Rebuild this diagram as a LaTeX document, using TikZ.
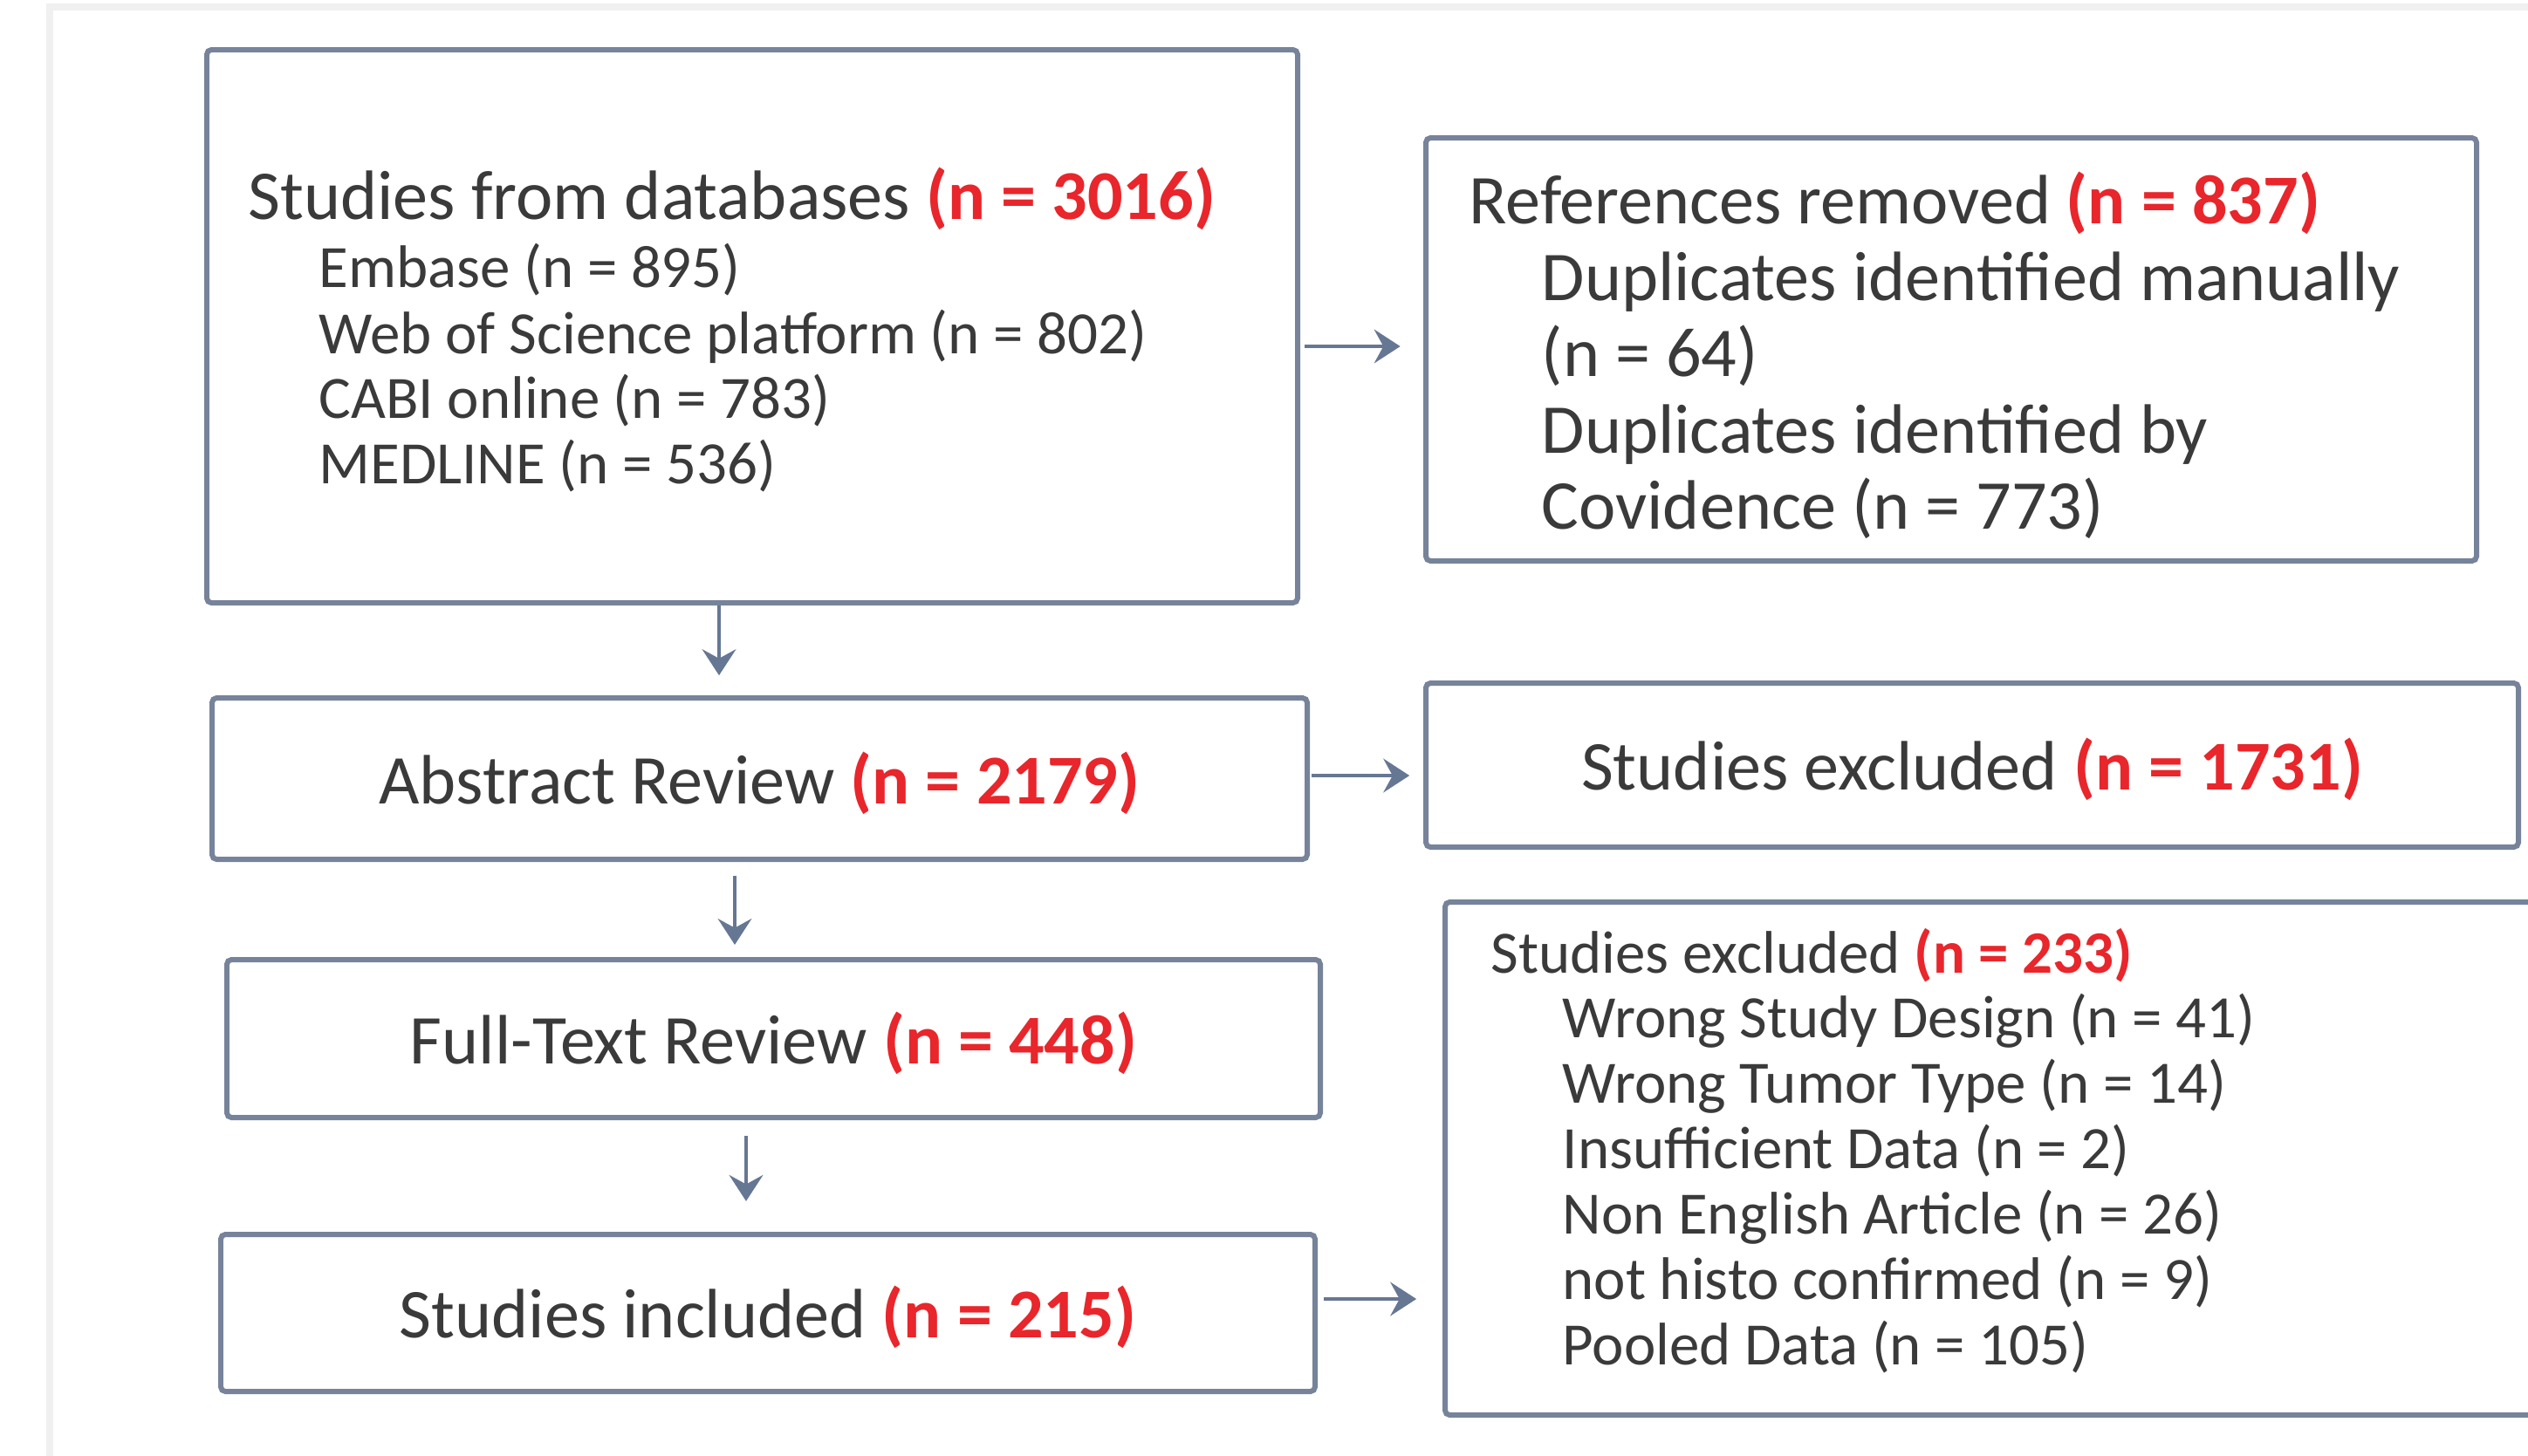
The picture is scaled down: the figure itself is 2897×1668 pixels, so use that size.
\documentclass[tikz,border=0pt]{standalone}
\usepackage{fontspec}
\setmainfont{Carlito}
\usetikzlibrary{arrows.meta,fit}
\definecolor{tgray}{HTML}{3A3A3A}
\definecolor{nred}{HTML}{E8262B}
\definecolor{bline}{HTML}{76839A}
\definecolor{aline}{HTML}{667794}
\definecolor{framegray}{HTML}{F0F0F0}
\newcommand{\redn}[1]{\textbf{\color{nred}#1}}
\begin{document}
\begin{tikzpicture}[x=0.01cm,y=-0.01cm,
  box/.style={draw=bline,line width=1.7pt,rounded corners=1.5pt,inner sep=0pt},
  big/.style={inner sep=0pt,text=tgray,font=\fontsize{22.8}{27}\selectfont},
  small/.style={inner sep=0pt,text=tgray,font=\fontsize{19.6}{23}\selectfont},
  arr/.style={draw=aline,line width=1.2pt,-{Stealth[length=8.5pt,width=11pt,inset=3pt]}}]
\useasboundingbox (0,0) rectangle (2897,1668);
\fill[white] (0,0) rectangle (2897,1668);
\draw[framegray,line width=2.5pt] (57,1700) -- (57,8) -- (2950,8);

% box 1
\node[box,fit={(237,57)(1487,691)}] (b1) {};
\node[big,anchor=base west] (t1) at (284,251) {Studies from databases \redn{(n = 3016)}};
\node[small,anchor=base west] (t1a) at (365,329) {Embase (n = 895)};
\node[small,anchor=base west] (t1b) at (365,405) {Web of Science platform (n = 802)};
\node[small,anchor=base west] (t1c) at (365,479) {CABI online (n = 783)};
\node[small,anchor=base west] (t1d) at (365,554) {MEDLINE (n = 536)};

% box 2
\node[box,fit={(1634,158)(2838,643)}] (b2) {};
\node[big,anchor=base west] (t2) at (1683,256) {References removed \redn{(n = 837)}};
\node[big,anchor=base west] (t2a) at (1766,344) {Duplicates identified manually};
\node[big,anchor=base west] (t2b) at (1766,431) {(n = 64)};
\node[big,anchor=base west] (t2c) at (1766,519) {Duplicates identified by};
\node[big,anchor=base west] (t2d) at (1766,606) {Covidence (n = 773)};

% box 3
\node[box,fit={(243,800)(1498,985)}] (b3) {};
\node[big] (t3) at ([yshift=-1.5pt]b3.center) {Abstract Review \redn{(n = 2179)}};

% box 4
\node[box,fit={(1634,783)(2886,971)}] (b4) {};
\node[big] (t4) at ([yshift=-1.5pt]b4.center) {Studies excluded \redn{(n = 1731)}};

% box 5
\node[box,fit={(260,1100)(1513,1281)}] (b5) {};
\node[big] (t5) at ([yshift=-1.5pt]b5.center) {Full-Text Review \redn{(n = 448)}};

% box 7
\node[box,fit={(253,1415)(1507,1595)}] (b7) {};
\node[big] (t7) at ([yshift=-1.5pt]b7.center) {Studies included \redn{(n = 215)}};

% box 6
\node[box,fit={(1656,1034)(2940,1622)}] (b6) {};
\node[small,anchor=base west] (t6) at (1708,1115) {Studies excluded \redn{(n = 233)}};
\node[small,anchor=base west] (t6a) at (1790,1189) {Wrong Study Design (n = 41)};
\node[small,anchor=base west] (t6b) at (1790,1264) {Wrong Tumor Type (n = 14)};
\node[small,anchor=base west] (t6c) at (1790,1339) {Insufficient Data (n = 2)};
\node[small,anchor=base west] (t6d) at (1790,1414) {Non English Article (n = 26)};
\node[small,anchor=base west] (t6e) at (1790,1489) {not histo confirmed (n = 9)};
\node[small,anchor=base west] (t6f) at (1790,1564) {Pooled Data (n = 105)};

% arrows
\draw[arr,shorten <=1.5pt,shorten >=7.5pt] (b1.east |- 0,397) -- (b2.west |- 0,397);
\draw[arr,shorten >=6.5pt] (b1.south -| 824,0) -- (b3.north -| 824,0);
\draw[arr,shorten <=0.5pt,shorten >=4.5pt] (b3.east |- 0,889) -- (b4.west |- 0,889);
\draw[arr,shorten <=4.5pt,shorten >=4pt] (b3.south -| 842,0) -- (b5.north -| 842,0);
\draw[arr,shorten <=5pt,shorten >=10pt] (b5.south -| 855,0) -- (b7.north -| 855,0);
\draw[arr,shorten <=2pt,shorten >=8.5pt] (b7.east |- 0,1489) -- (b6.west |- 0,1489);
\end{tikzpicture}
\end{document}
